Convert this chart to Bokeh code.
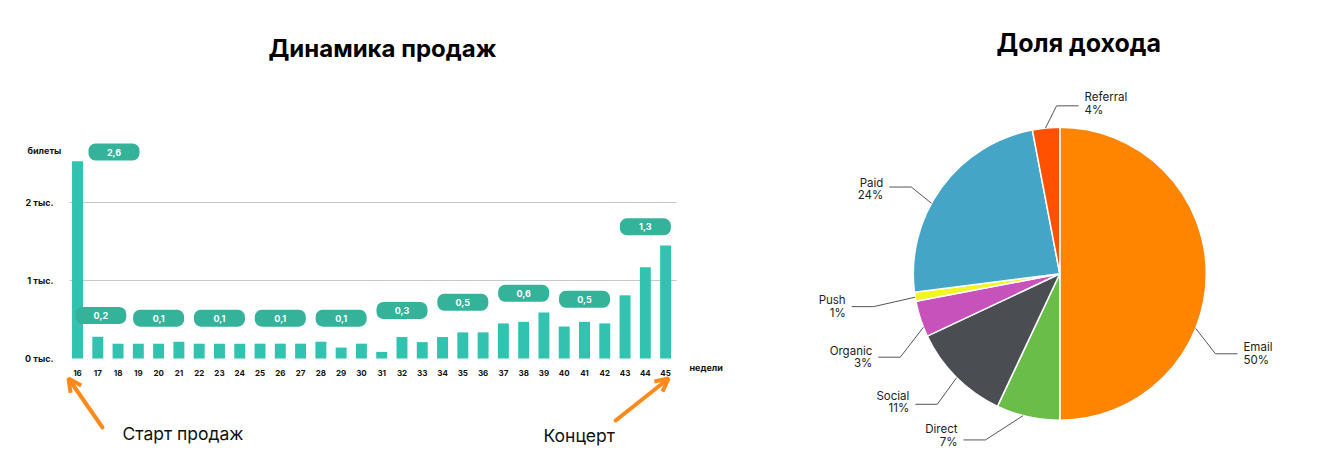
import math
from bokeh.plotting import figure
from bokeh.models import (FixedTicker, Arrow, OpenHead, ColumnDataSource, Range1d)
from bokeh.layouts import row
from bokeh.embed import file_html
from bokeh.resources import INLINE
from bokeh.core.properties import value

# ---------------- data: sales dynamics ----------------
weeks = list(range(16, 46))
tickets = [2530, 280, 190, 190, 190, 215, 190, 190, 190, 190,
           190, 190, 215, 140, 190, 85, 275, 210, 275, 335,
           335, 450, 470, 590, 410, 470, 450, 810, 1170, 1450]
y_ticks = [0, 1000, 2000]
y_tick_labels = ["0 тыс.", "1 тыс.", "2 тыс."]
badge_texts = ["2,6", "0,2", "0,1", "0,1", "0,1", "0,1", "0,3", "0,5", "0,6", "0,5", "1,3"]

# badge placement (layout)
badge_week = [17.8, 17.15, 20, 23, 26, 29, 32, 35, 38, 41, 44]
badge_level = [2647, 551, 517, 517, 517, 517, 615, 722, 836, 759, 1688]

# ---------------- data: revenue share ----------------
channels = ["Email", "Direct", "Social", "Organic", "Push", "Paid", "Referral"]
shares = [50, 7, 11, 4, 1, 24, 3]
share_labels = ["50%", "7%", "11%", "3%", "1%", "24%", "4%"]
colors = ["#FF8500", "#6BBD4A", "#4A4D51", "#C852BC", "#F2F51E", "#45A5C7", "#FF5100"]

# leader-line layout (degrees clockwise from top, radius in px)
leader_start_deg = [111.9, 194.5, 224.8, 248.6, 260.8, 298.8, 354.4]
leader_elbow_deg = [117.2, 204.1, 223.2, 242.4, 260.0, 300.3, 358.9]
leader_elbow_r = [175, 182, 179, 180, 189, 172, 168]
leader_side = [1, -1, -1, -1, -1, -1, 1]
label_shift = [0, 4, 2, 0, 0, -2, 2]

FONT = "Inter"
BAR_COLOR = "#31C3B0"
BADGE_COLOR = "#34B29A"
ARROW_COLOR = "#FF8A1C"
TEXT = "#111111"

TOP = 80          # title band height (px)
H = 378           # frame height (px)
W1, W2 = 780, 527

# ================= bar chart =================
PXW = 20.28       # px per week
PXV = 78 / 1000   # px per ticket
ZERO_Y = 358 - TOP            # zero line, px from frame top
FIRST_X = 77                  # centre of first bar, px from frame left
xs0 = weeks[0] - FIRST_X / PXW
ytop = ZERO_Y / PXV
p1 = figure(frame_width=W1, frame_height=H,
            x_range=Range1d(xs0, xs0 + W1 / PXW),
            y_range=Range1d(ytop - H / PXV, ytop),
            min_border_left=0, min_border_right=0,
            min_border_top=TOP, min_border_bottom=0,
            toolbar_location=None, output_backend="svg")
p1.outline_line_color = None
p1.grid.grid_line_color = None
p1.title.text = "Динамика продаж"
p1.title.align = "left"
p1.title.offset = 268
p1.title.text_font = FONT
p1.title.text_font_size = "24px"
p1.title.text_font_style = "bold"
p1.title.text_color = "black"
p1.title.standoff = 36

def px2week(px):
    return xs0 + px / PXW

def px2val(py):
    return (358 - py) / PXV

# gridlines (stop at the plotting area of the bars)
g_left = weeks[0] - 8 / PXW
g_right = weeks[-1] + 11 / PXW
p1.segment(x0=[g_left] * 2, x1=[g_right] * 2, y0=y_ticks[1:], y1=y_ticks[1:],
           line_color="#C8C8C8", line_width=1)

src = ColumnDataSource(dict(week=weeks, tickets=tickets))
p1.vbar(x="week", top="tickets", width=0.54, bottom=0, source=src,
        fill_color=BAR_COLOR, line_color=None)

bsrc = ColumnDataSource(dict(x=badge_week, y=badge_level, t=badge_texts))
p1.rect(x="x", y="y", width=51, height=17, width_units="screen", height_units="screen",
        source=bsrc, fill_color=BADGE_COLOR, line_color=None, border_radius=7)
p1.text(x="x", y="y", text="t", source=bsrc, text_align="center", text_baseline="middle",
        text_color="white", text_font=value(FONT), text_font_style="bold",
        text_font_size="9px")

p1.xaxis.fixed_location = 0
p1.xaxis.ticker = FixedTicker(ticks=weeks)
p1.xaxis.axis_line_color = None
p1.xaxis.major_tick_line_color = None
p1.xaxis.minor_tick_line_color = None
p1.xaxis.major_label_text_font = FONT
p1.xaxis.major_label_text_font_size = "8px"
p1.xaxis.major_label_text_font_style = "bold"
p1.xaxis.major_label_text_color = TEXT
p1.xaxis.major_label_standoff = 5

p1.yaxis.fixed_location = g_left
p1.yaxis.ticker = FixedTicker(ticks=y_ticks)
p1.yaxis.major_label_overrides = {t: l for t, l in zip(y_ticks, y_tick_labels)}
p1.yaxis.axis_line_color = None
p1.yaxis.major_tick_line_color = None
p1.yaxis.minor_tick_line_color = None
p1.yaxis.major_label_text_font = FONT
p1.yaxis.major_label_text_font_size = "9px"
p1.yaxis.major_label_text_font_style = "bold"
p1.yaxis.major_label_text_color = TEXT
p1.yaxis.major_label_standoff = 10

# texts around the chart
p1.text(x=[px2week(27), px2week(689)], y=[px2val(150), px2val(367)],
        text=["билеты", "недели"], text_font=value(FONT), text_font_size="9px",
        text_font_style="bold", text_baseline="middle", text_color=TEXT)
p1.text(x=[px2week(122), px2week(543)], y=[px2val(433), px2val(435)],
        text=["Старт продаж", "Концерт"], text_font=value(FONT),
        text_font_size="17.5px", text_baseline="middle", text_color=TEXT)

p1.add_layout(Arrow(end=OpenHead(size=13, line_color=ARROW_COLOR, line_width=4),
                    x_start=weeks[0] + 25 / PXW, y_start=px2val(427),
                    x_end=weeks[0] - 9 / PXW, y_end=px2val(378),
                    line_color=ARROW_COLOR, line_width=4, line_cap="round"))
p1.add_layout(Arrow(end=OpenHead(size=13, line_color=ARROW_COLOR, line_width=4),
                    x_start=weeks[-1] - 50 / PXW, y_start=px2val(420),
                    x_end=weeks[-1] + 3 / PXW, y_end=px2val(378),
                    line_color=ARROW_COLOR, line_width=4, line_cap="round"))

# ================= pie chart =================
R = 146.5
CX, CY = 1059.3 - W1, 273.3 - TOP     # pie centre within frame (px)
p2 = figure(frame_width=W2, frame_height=H,
            x_range=Range1d(-CX, W2 - CX), y_range=Range1d(CY - H, CY),
            min_border_top=TOP, min_border_left=0, min_border_right=0, min_border_bottom=0,
            x_axis_location=None, y_axis_location=None,
            toolbar_location=None, output_backend="svg")
p2.outline_line_color = None
p2.grid.grid_line_color = None
p2.title.text = "Доля дохода"
p2.title.align = "left"
p2.title.offset = 996 - W1
p2.title.text_font = FONT
p2.title.text_font_size = "25px"
p2.title.text_font_style = "bold"
p2.title.text_color = "black"
p2.title.standoff = 46

total = sum(shares)
starts, ends = [], []
acc = 0
for s in shares:
    starts.append(math.pi / 2 - acc / total * 2 * math.pi)
    acc += s
    ends.append(math.pi / 2 - acc / total * 2 * math.pi)
psrc = ColumnDataSource(dict(start=starts, end=ends, color=colors, name=channels))
p2.wedge(x=0, y=0, radius=R, start_angle="start", end_angle="end", direction="clock",
         fill_color="color", line_color="white", line_width=1.5, source=psrc)

lx, ly = [], []
nx, ny, qx, qy, aligns = [], [], [], [], []
for i in range(len(channels)):
    s = math.radians(leader_start_deg[i])
    e = math.radians(leader_elbow_deg[i])
    x0, y0 = R * math.sin(s), R * math.cos(s)
    x1, y1 = leader_elbow_r[i] * math.sin(e), leader_elbow_r[i] * math.cos(e)
    x2 = x1 + leader_side[i] * 22
    lx.append([x0, x1, x2])
    ly.append([y0, y1, y1])
    tx = x2 + leader_side[i] * 6
    nx.append(tx); ny.append(y1 + 6.5 + label_shift[i])
    qx.append(tx); qy.append(y1 - 6 + label_shift[i])
    aligns.append("left" if leader_side[i] > 0 else "right")
p2.multi_line(xs=lx, ys=ly, line_color="#555555", line_width=1)
lsrc = ColumnDataSource(dict(nx=nx, ny=ny, qx=qx, qy=qy, name=channels,
                             pct=share_labels, align=aligns))
p2.text(x="nx", y="ny", text="name", text_align="align", text_baseline="middle",
        text_font=value(FONT), text_font_size="11.5px", text_color="#222222", source=lsrc)
p2.text(x="qx", y="qy", text="pct", text_align="align", text_baseline="middle",
        text_font=value(FONT), text_font_size="11.5px", text_color="#222222", source=lsrc)

layout = row(p1, p2)
open("out.html", "w").write(file_html(layout, INLINE))
